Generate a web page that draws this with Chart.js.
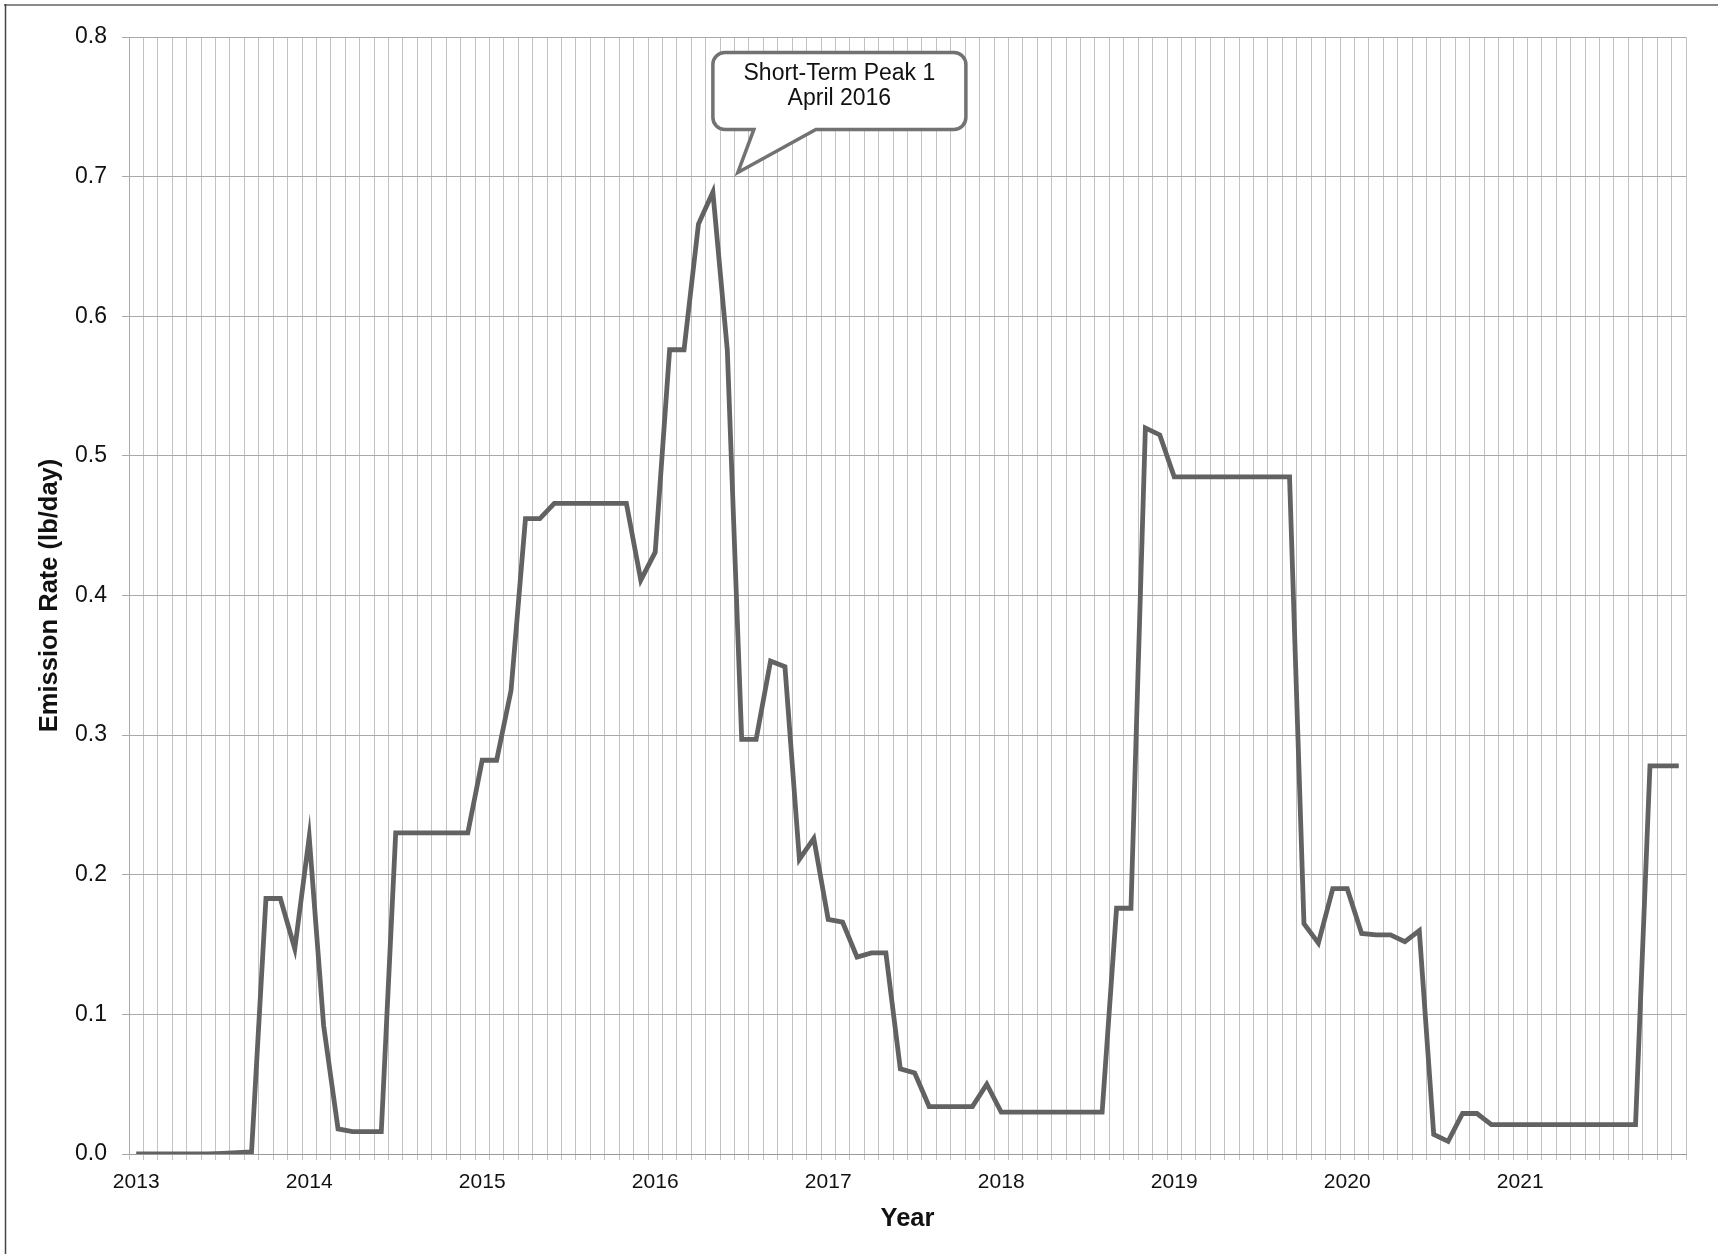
<!DOCTYPE html>
<html>
<head>
<meta charset="utf-8">
<title>Emission Rate</title>
<script src="https://cdn.jsdelivr.net/npm/chart.js@4.4.1/dist/chart.umd.min.js"></script>
<style>
  html, body { margin: 0; padding: 0; background: #ffffff; }
  #wrap { position: relative; width: 1718px; height: 1254px; }
</style>
</head>
<body>
<div id="wrap"><canvas id="chart" width="1718" height="1254"></canvas></div>
<script>
// Monthly emission rate (lb/day), one array per calendar year (Jan..Dec)
const years = [2013, 2014, 2015, 2016, 2017, 2018, 2019, 2020, 2021];
const rate2013 = [0, 0, 0, 0, 0, 0, 0.0005, 0.001, 0.0015, 0.183, 0.183, 0.147];
const rate2014 = [0.227, 0.092, 0.018, 0.016, 0.016, 0.016, 0.230, 0.230, 0.230, 0.230, 0.230, 0.230];
const rate2015 = [0.282, 0.282, 0.332, 0.455, 0.455, 0.466, 0.466, 0.466, 0.466, 0.466, 0.466, 0.411];
const rate2016 = [0.431, 0.576, 0.576, 0.666, 0.689, 0.576, 0.297, 0.297, 0.353, 0.349, 0.211, 0.226];
const rate2017 = [0.168, 0.166, 0.141, 0.144, 0.144, 0.061, 0.058, 0.034, 0.034, 0.034, 0.034, 0.050];
const rate2018 = [0.030, 0.030, 0.030, 0.030, 0.030, 0.030, 0.030, 0.030, 0.176, 0.176, 0.520, 0.515];
const rate2019 = [0.485, 0.485, 0.485, 0.485, 0.485, 0.485, 0.485, 0.485, 0.485, 0.165, 0.151, 0.190];
const rate2020 = [0.190, 0.158, 0.157, 0.157, 0.152, 0.160, 0.014, 0.009, 0.029, 0.029, 0.021, 0.021];
const rate2021 = [0.021, 0.021, 0.021, 0.021, 0.021, 0.021, 0.021, 0.021, 0.021, 0.278, 0.278, 0.278];
const yTicks = [0, 0.1, 0.2, 0.3, 0.4, 0.5, 0.6, 0.7, 0.8];

const calloutLines = ['Short-Term Peak 1', 'April 2016'];
const calloutIndex = 40; // April 2016 within the monthly series

const rates = [].concat(rate2013, rate2014, rate2015, rate2016, rate2017,
                        rate2018, rate2019, rate2020, rate2021);
const labels = [];
years.forEach(y => { for (let m = 1; m <= 12; m++) labels.push(y + '-' + String(m).padStart(2, '0')); });

const FONT = '"Liberation Sans", Arial, Helvetica, sans-serif';

// Outer frame (top and left edges) of the figure
const framePlugin = {
  id: 'frame',
  beforeDraw(chart) {
    const ctx = chart.ctx;
    ctx.save();
    ctx.fillStyle = '#ffffff';
    ctx.fillRect(0, 0, chart.width, chart.height);
    ctx.strokeStyle = '#8a8a8a';
    ctx.lineWidth = 2;
    ctx.beginPath();
    ctx.moveTo(4, 5); ctx.lineTo(chart.width, 5);
    ctx.stroke();
    ctx.strokeStyle = '#444444';
    ctx.lineWidth = 1.5;
    ctx.beginPath();
    ctx.moveTo(5.5, 4); ctx.lineTo(5.5, chart.height);
    ctx.stroke();
    ctx.restore();
  }
};

// Speech-bubble annotation pointing at the April 2016 peak
const calloutPlugin = {
  id: 'callout',
  afterDatasetsDraw(chart) {
    const ctx = chart.ctx;
    const xs = chart.scales.x, ys = chart.scales.y;
    const px = xs.getPixelForValue(calloutIndex);
    const py = ys.getPixelForValue(rates[calloutIndex]);
    const left = px, top = py - 139.5, w = 253, h = 77, r = 12;
    const right = left + w, bottom = top + h;
    const tipX = px + 25, tipY = py - 19.5;
    const baseA = left + 41, baseB = left + 103;
    ctx.save();
    ctx.beginPath();
    ctx.moveTo(left + r, top);
    ctx.lineTo(right - r, top);
    ctx.arcTo(right, top, right, top + r, r);
    ctx.lineTo(right, bottom - r);
    ctx.arcTo(right, bottom, right - r, bottom, r);
    ctx.lineTo(baseB, bottom);
    ctx.lineTo(tipX, tipY);
    ctx.lineTo(baseA, bottom);
    ctx.lineTo(left + r, bottom);
    ctx.arcTo(left, bottom, left, bottom - r, r);
    ctx.lineTo(left, top + r);
    ctx.arcTo(left, top, left + r, top, r);
    ctx.closePath();
    ctx.fillStyle = '#ffffff';
    ctx.fill();
    ctx.strokeStyle = '#727272';
    ctx.lineWidth = 3.5;
    ctx.lineJoin = 'miter';
    ctx.stroke();
    ctx.fillStyle = '#111111';
    ctx.font = '23px ' + FONT;
    ctx.textAlign = 'center';
    ctx.textBaseline = 'middle';
    const cx = left + w / 2;
    ctx.fillText(calloutLines[0], cx, top + 21);
    ctx.fillText(calloutLines[1], cx, top + 46);
    ctx.restore();
  }
};

new Chart(document.getElementById('chart'), {
  type: 'line',
  data: {
    labels: labels,
    datasets: [{
      label: 'Emission Rate',
      data: rates,
      borderColor: '#626262',
      borderWidth: 4.8,
      tension: 0,
      pointRadius: 0,
      pointHoverRadius: 0,
      borderJoinStyle: 'miter',
      borderCapStyle: 'butt',
      fill: false
    }]
  },
  options: {
    responsive: false,
    animation: false,
    devicePixelRatio: 1,
    layout: { padding: { top: 37, right: 32, bottom: 0, left: 0 } },
    plugins: {
      legend: { display: false },
      tooltip: { enabled: false }
    },
    scales: {
      x: {
        type: 'category',
        offset: true,
        grid: { offset: true, color: '#c2c2c2', lineWidth: 1, tickLength: 6, drawTicks: true },
        border: { display: true, color: '#9a9a9a', width: 1 },
        ticks: {
          autoSkip: false,
          maxRotation: 0,
          minRotation: 0,
          padding: 10,
          color: '#111111',
          font: { family: FONT, size: 21 },
          callback: (v, i) => (i % 12 === 0 ? String(years[i / 12]) : '')
        },
        title: {
          display: true,
          text: 'Year',
          color: '#111111',
          font: { family: FONT, size: 25.5, weight: 'bold' },
          padding: { top: 0, bottom: 20 }
        },
        afterFit(scale) { scale.height = 100; }
      },
      y: {
        min: 0,
        max: 0.8,
        afterBuildTicks(scale) { scale.ticks = yTicks.map(v => ({ value: v })); },
        grid: { color: '#a9a9a9', lineWidth: 1, tickLength: 7 },
        border: { display: true, color: '#a9a9a9', width: 1 },
        ticks: {
          padding: 15,
          color: '#111111',
          font: { family: FONT, size: 23 },
          callback: v => Number(v).toFixed(1)
        },
        title: {
          display: true,
          text: 'Emission Rate (lb/day)',
          color: '#111111',
          font: { family: FONT, size: 25.5, weight: 'bold' },
          padding: { top: 35, bottom: 0 }
        },
        afterFit(scale) { scale.width = 129; }
      }
    }
  },
  plugins: [framePlugin, calloutPlugin]
});
</script>
</body>
</html>
